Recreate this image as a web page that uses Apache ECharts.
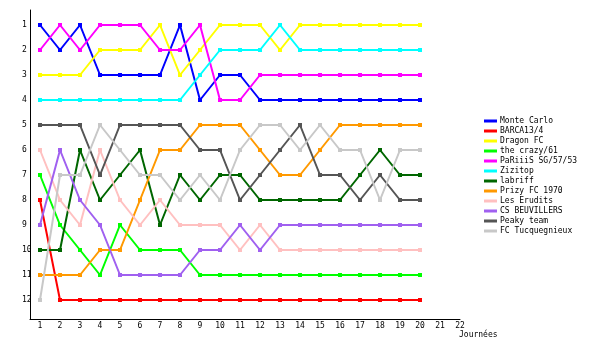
<!DOCTYPE html>
<html><head><meta charset="utf-8">
<script src="https://cdn.jsdelivr.net/npm/echarts@6/dist/echarts.min.js"></script>
<style>html,body{margin:0;padding:0;background:#fff}#c{width:600px;height:350px}</style>
</head><body><div id="c"></div>
<script>
var journees = [1,2,3,4,5,6,7,8,9,10,11,12,13,14,15,16,17,18,19,20];
var xTicks = [1,2,3,4,5,6,7,8,9,10,11,12,13,14,15,16,17,18,19,20,21,22];
var yTicks = [1,2,3,4,5,6,7,8,9,10,11,12];
var teams = ["Monte Carlo","BARCA13/4","Dragon FC","the crazy/61","PaRiiiS SG/57/53","Zizitop","labriff","Prizy FC 1970","Les Erudits","CS BEUVILLERS","Peaky team","FC Tucquegnieux"];
var colors = ["#0000ff","#ff0000","#ffff00","#00ff00","#ff00ff","#00ffff","#006600","#ff9900","#ffc0c0","#a060f0","#555555","#c8c8c8"];
var monteCarlo = [1,2,1,3,3,3,3,1,4,3,3,4,4,4,4,4,4,4,4,4];
var barca = [8,12,12,12,12,12,12,12,12,12,12,12,12,12,12,12,12,12,12,12];
var dragon = [3,3,3,2,2,2,1,3,2,1,1,1,2,1,1,1,1,1,1,1];
var crazy = [7,9,10,11,9,10,10,10,11,11,11,11,11,11,11,11,11,11,11,11];
var pariiis = [2,1,2,1,1,1,2,2,1,4,4,3,3,3,3,3,3,3,3,3];
var zizitop = [4,4,4,4,4,4,4,4,3,2,2,2,1,2,2,2,2,2,2,2];
var labriff = [10,10,6,8,7,6,9,7,8,7,7,8,8,8,8,8,7,6,7,7];
var prizy = [11,11,11,10,10,8,6,6,5,5,5,6,7,7,6,5,5,5,5,5];
var erudits = [6,8,9,6,8,9,8,9,9,9,10,9,10,10,10,10,10,10,10,10];
var beuvillers = [9,6,8,9,11,11,11,11,10,10,9,10,9,9,9,9,9,9,9,9];
var peaky = [5,5,5,7,5,5,5,5,6,6,8,7,6,5,7,7,8,7,8,8];
var tucq = [12,7,7,5,6,7,7,8,7,8,6,5,5,6,5,6,6,8,6,6];
var allData = [monteCarlo,barca,dragon,crazy,pariiis,zizitop,labriff,prizy,erudits,beuvillers,peaky,tucq];

var font = 'DejaVu Sans Mono';
var series = teams.map(function(name,i){
  return {
    name: name, type: 'line', color: colors[i],
    data: journees.map(function(j,k){ return [j, allData[i][k]]; }),
    symbol: 'rect', symbolSize: 4, showSymbol: true,
    lineStyle: {width: 2, color: colors[i]},
    itemStyle: {color: colors[i]},
    animation: false
  };
});
var chart = echarts.init(document.getElementById('c'), null, {renderer:'canvas'});
chart.setOption({
  backgroundColor: '#fff',
  animation: false,
  grid: {left: 30, top: 10, width: 430, height: 309, containLabel: false},
  xAxis: {
    type: 'value', min: 0.5, max: 22,
    axisLine: {show: true, onZero: false, lineStyle: {color: '#000', width: 1}},
    axisTick: {show: false},
    splitLine: {show: false},
    axisLabel: {customValues: xTicks, color: '#000', fontFamily: font, fontSize: 8, margin: 3, showMinLabel: true, showMaxLabel: true}
  },
  yAxis: {
    type: 'value', inverse: true, min: 0.4, max: 12.76,
    axisLine: {show: true, onZero: false, lineStyle: {color: '#000', width: 1}},
    axisTick: {show: false},
    splitLine: {show: false},
    axisLabel: {customValues: yTicks, color: '#000', fontFamily: font, fontSize: 8, align: 'left', margin: 8}
  },
  legend: {
    orient: 'vertical', left: 479, top: 111,
    itemWidth: 13, itemHeight: 3, itemGap: 0,
    icon: 'rect',
    textStyle: {fontFamily: font, fontSize: 8, color: '#000', lineHeight: 10, padding: [0,0,0,-2]},
    data: teams.map(function(t,i){ return {name: t, itemStyle: {color: colors[i]}}; })
  },
  graphic: [{type: 'text', left: 459, top: 331, style: {text: 'Journées', font: '8px "DejaVu Sans Mono"', fill: '#000'}}],
  series: series
});
</script></body></html>
